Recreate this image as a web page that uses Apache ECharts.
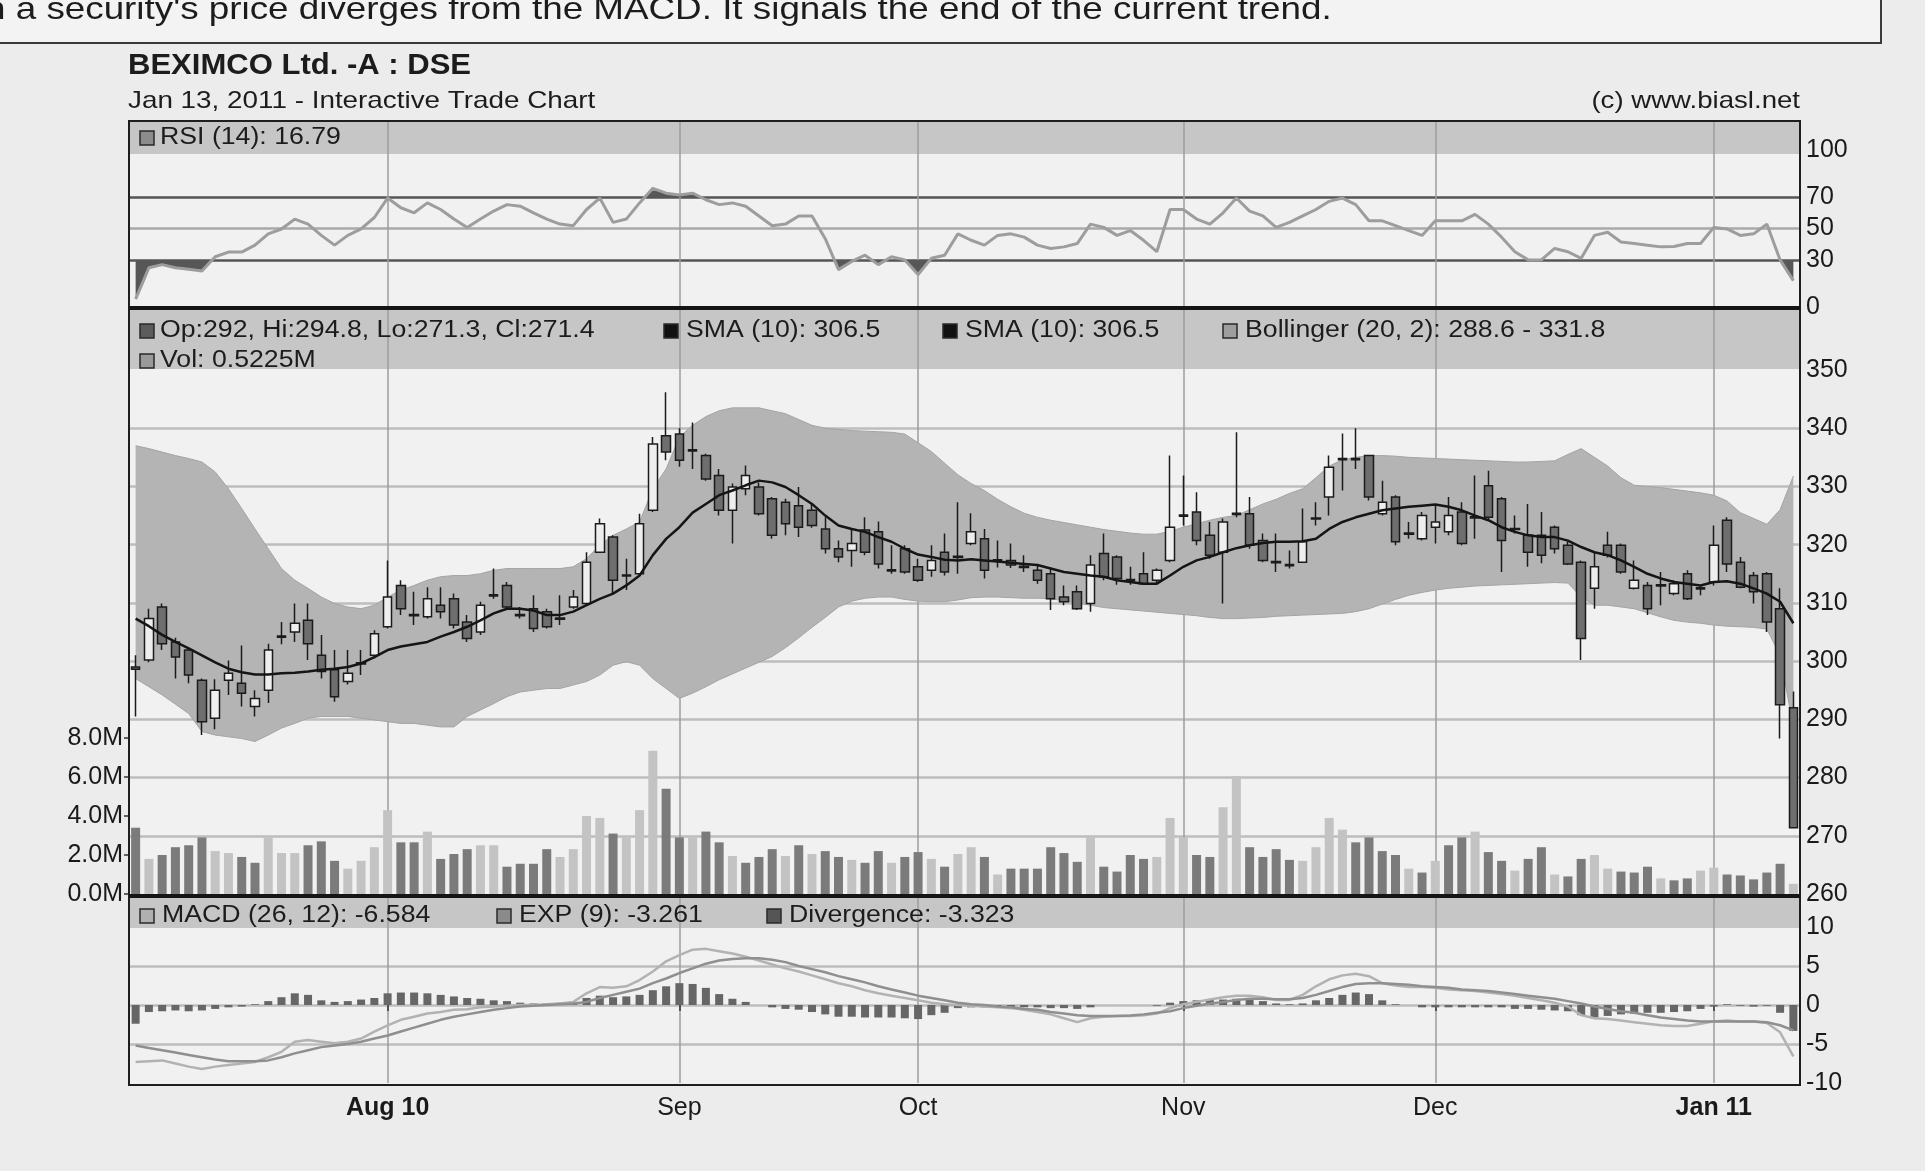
<!DOCTYPE html>
<html><head><meta charset="utf-8">
<script src="https://cdn.jsdelivr.net/npm/echarts@6/dist/echarts.min.js"></script>
<style>html,body{margin:0;padding:0;background:#ececec;}#c{width:1925px;height:1171px;}</style>
</head><body><div id="c"></div>
<script>
// ---- trading days (DSE, Sun-Thu) ----
const julDays = [5,6,7,8,11,12,13,14,15,18,19,20,21,22,25,26,27,28,29];
const augDays = [1,2,3,4,5,8,9,10,11,12,16,17,18,19,22,23,24,25,26,29,30,31];
const sepDays = [1,2,5,6,7,8,15,16,19,20,21,22,23,26,27,28,29,30];
const octDays = [3,4,5,6,7,10,11,12,13,14,18,19,20,21,24,25,26,27,28,31];
const novDays = [1,2,3,4,7,8,9,10,11,14,15,21,22,23,24,25,28,29,30];
const decDays = [1,2,5,6,7,8,9,12,13,14,15,19,20,21,22,23,26,27,28,29,30];
const janDays = [2,3,4,5,6,9,10];
const monthStarts = ['2010-08-01','2010-09-01','2010-10-03','2010-11-01','2010-12-01','2011-01-02'];
const monthLabels = ['Aug 10','Sep','Oct','Nov','Dec','Jan 11'];
const boldLabels = ['Aug 10','Jan 11'];

// ---- prices [open, high, low, close] ----
const candles = [
[299.0,301.0,290.5,298.6],[300.2,309.0,299.8,307.3],[309.3,309.9,301.9,303.0],[303.3,304.0,297.0,300.7],[301.9,302.2,296.2,297.6],
[296.7,297.0,287.3,289.6],[290.2,296.9,288.3,295.0],[296.7,300.1,294.2,297.9],[296.2,302.7,292.2,294.5],[292.2,295.0,290.5,293.6],
[295.0,303.0,292.8,301.9],[304.1,306.7,302.9,304.3],[305.0,309.9,303.3,306.5],[307.0,309.9,300.2,303.0],[301.0,304.5,297.0,298.2],
[298.5,301.9,293.0,293.9],[296.5,301.9,296.0,297.9],[299.5,301.9,297.6,299.7],[301.0,305.3,300.5,304.7],[305.9,317.3,305.6,311.0],
[313.0,313.9,307.9,309.0],[308.0,311.9,306.2,307.8],[307.6,312.7,307.3,310.7],[309.6,312.7,307.3,308.5],[310.7,311.6,305.6,306.2],
[306.7,307.9,303.3,303.9],[305.0,310.2,304.5,309.6],[311.2,315.9,310.7,311.4],[313.0,313.6,308.8,309.3],[308.0,309.3,307.3,307.8],
[309.0,311.3,305.0,305.6],[308.5,309.0,305.6,305.9],[307.2,311.3,306.2,307.4],[309.3,312.2,309.0,311.0],[309.9,318.7,309.6,317.0],
[318.7,324.5,318.7,323.6],[321.3,321.6,311.6,313.9],[314.6,317.6,312.2,314.8],[315.0,325.3,314.7,323.6],[325.9,338.5,325.6,337.3],
[338.7,346.2,334.5,335.9],[339.0,340.0,333.4,334.5],[336.1,341.0,333.0,336.3],[335.3,335.6,331.0,331.3],[331.9,333.0,325.0,325.9],
[325.9,330.5,320.2,329.9],[329.6,333.6,328.5,331.9],[329.9,330.7,325.0,325.3],[327.9,328.2,321.0,321.6],[327.3,327.9,321.6,323.6],
[326.7,329.9,321.3,323.0],[325.9,327.0,322.9,323.3],[322.7,324.7,318.5,319.3],[319.3,320.7,317.0,317.9],[319.0,322.7,316.2,320.2],
[322.5,324.7,318.2,318.7],[322.2,324.0,315.9,316.7],[315.5,319.9,315.0,315.7],[319.3,319.9,315.0,315.3],[316.2,317.6,313.6,313.9],
[315.6,319.9,314.5,317.3],[318.7,321.9,314.7,315.3],[317.8,327.3,315.0,318.0],[320.2,325.4,319.9,322.2],[321.0,322.7,314.2,315.6],
[317.2,320.7,316.1,317.4],[317.3,320.2,316.0,316.5],[316.3,318.2,315.3,316.1],[315.6,316.7,313.3,313.9],[315.0,315.9,308.8,310.7],
[311.0,313.0,309.6,310.2],[311.9,313.0,308.8,309.0],[309.9,318.2,308.5,316.5],[318.5,321.9,313.9,314.5],[317.9,318.2,313.1,314.2],
[314.0,316.2,313.1,313.8],[315.0,318.7,313.1,313.3],[313.9,315.9,313.1,315.6],[317.3,335.3,317.0,323.0],[324.9,331.9,323.3,325.1],
[325.6,329.0,319.9,320.7],[321.6,323.9,317.6,318.2],[318.7,324.5,309.9,323.9],[325.2,339.3,324.7,325.4],[325.3,328.2,319.3,319.9],
[320.7,321.9,317.0,317.3],[317.1,321.9,315.3,316.9],[316.6,319.0,315.9,316.4],[317.0,326.2,317.0,320.5],[324.4,327.3,323.3,324.6],
[328.2,335.3,325.0,333.3],[334.6,339.1,329.3,334.8],[334.8,340.0,333.0,334.6],[335.3,335.3,327.6,328.2],[325.3,331.0,325.0,327.3],
[328.2,328.5,319.9,320.5],[321.8,323.9,321.0,322.0],[321.0,325.6,320.7,325.0],[323.0,327.0,320.2,323.9],[322.2,328.2,321.6,325.0],
[325.6,327.3,319.9,320.2],[324.6,331.9,321.0,324.8],[330.1,332.7,324.2,324.7],[327.9,328.2,315.3,320.7],[322.6,325.0,321.9,322.8],
[321.6,327.0,316.2,318.7],[321.6,325.6,316.8,318.2],[323.0,323.3,318.5,319.3],[319.9,320.5,316.5,316.7],[317.0,317.3,300.2,303.9],
[312.5,318.7,309.0,316.2],[319.9,322.2,317.8,318.2],[319.9,320.2,315.0,315.3],[312.5,317.3,312.3,313.9],[313.0,313.6,307.9,309.0],
[312.9,315.3,309.6,313.1],[311.6,313.9,311.3,313.3],[315.0,315.6,310.5,310.7],[312.4,313.0,311.3,312.6],[313.6,323.3,313.0,319.9],
[324.2,324.7,315.3,316.7],[317.0,317.9,312.5,312.7],[314.7,315.3,309.9,311.9],[315.0,315.3,305.0,306.7],[309.0,312.5,286.7,292.5],
[292.0,294.8,271.3,271.4]
];
const sma10 = [307.3,306,304.5,303.3,302.2,301,299.8,298.7,298.1,297.7,297.7,297.9,298,298.2,298.5,298.7,299,299.6,300.7,301.9,
302.5,302.9,303.3,304.2,305,305.9,307,308.2,309,309,308.7,307.9,307.9,308.5,309.6,310.7,311.6,313,314.7,318.2,
321,323,325.5,327,328.5,329.3,330.2,331,330.7,329.9,328.5,327,325,323.3,322.7,322.2,321.3,320.5,319.3,318.3,
317.9,317.4,317.3,317.5,317.3,317.1,316.9,316.7,316.5,315.9,315.3,315,314.7,314.5,313.9,313.6,313.3,313.3,314.7,316.2,
317.3,317.9,318.7,319.4,319.9,320.3,320.5,320.5,320.6,321,322.7,323.9,324.7,325.3,325.9,326.2,326.5,326.7,326.9,326.5,
325.9,325,324.2,323,322.2,321.6,321.3,321.3,320.7,319.6,318.7,318.2,317.3,316.2,315,314.2,313.6,313.3,313,313.6,
313.7,313.3,312.5,311.6,310.2,306.5];
const bbUpper = [337,336.5,335.9,335.3,334.8,334.2,332.5,329.6,326.2,322.7,319.3,315.9,313.9,312.5,311,309.9,309.3,309,309.6,311,
312.2,313,313.9,314.5,314.7,314.7,315,315.6,315.9,315.9,315.9,315.9,315.9,316.2,317.6,319.9,321.6,322.7,323.9,329.6,333,338.5,
340.5,342,343,343.5,343.5,343.5,343,342.5,341.5,340.5,340,339.8,339.6,339.5,339.4,339.3,339,337.5,336,334,332,330.5,329.3,327.8,
326.5,325.4,324.7,324.2,323.8,323.4,323,322.6,322.3,322,321.8,321.8,322.3,323,323.6,324.2,324.7,325,
326,327,327.8,328.8,329.6,331.5,333.5,334.6,335,335.3,335.3,335.2,335,334.9,334.8,334.7,334.6,334.5,334.4,334.3,334.2,334.2,
334.3,334.4,335.5,336.5,335,333.5,331.5,330.2,330,329.8,329.5,329.2,328.9,328.5,327.5,325.5,324.5,323.5,326,331.8];
const bbLower = [297,295.6,294.2,292.6,291,287.9,287.3,287,286.7,286.2,287.3,288.5,289.3,290.2,290.5,290.5,290.5,290.2,289.9,289.6,
289.3,289.3,289,288.7,288.7,290.5,291.6,292.7,293.9,294.7,295,295.3,295.3,295.9,296.5,297.6,299.3,299.9,299.3,297,295.3,293.6,
294.5,295.6,296.8,297.8,298.8,299.8,300.8,302.3,304,305.8,307.5,309.3,310.3,310.8,311,311,310.6,310.3,310.2,310.2,310.5,310.9,
311,311,310.9,310.8,310.8,310.7,310.4,310,309.6,309.2,309,308.8,308.6,308.4,308.2,308,307.8,307.5,307.3,307.3,
307.4,307.5,307.7,307.8,307.9,308,308.1,308.2,308.5,309,309.8,310.6,311.3,311.8,312.2,312.5,312.7,312.9,313,313.1,313.2,313.3,
313.4,313.5,313.4,311,309.6,309.6,309.3,309,308.3,307.6,307,306.7,306.5,306.2,306,305.9,305.8,305.5,301,288.6];
// ---- volume (millions) and up/down flag ----
const volume = [3.4,1.8,2.0,2.4,2.5,2.9,2.2,2.1,1.9,1.6,2.9,2.1,2.1,2.5,2.7,1.7,1.3,1.7,2.4,4.3,
2.65,2.65,3.2,1.8,2.05,2.3,2.5,2.5,1.4,1.55,1.55,2.3,1.9,2.3,4.0,3.9,3.1,2.9,4.3,7.35,
5.4,2.9,2.9,3.2,2.65,1.95,1.6,1.9,2.3,1.95,2.5,2.05,2.2,1.9,1.75,1.6,2.2,1.6,1.9,2.15,
1.8,1.4,2.05,2.4,1.9,1.0,1.3,1.3,1.3,2.4,2.1,1.65,2.9,1.4,1.15,2.0,1.8,1.9,3.9,2.9,
2.0,1.9,4.45,6.05,2.4,1.9,2.3,1.75,1.7,2.4,3.9,3.3,2.65,2.9,2.2,2.0,1.3,1.1,1.7,2.5,
2.9,3.2,2.15,1.7,1.2,1.8,2.4,1.0,0.9,1.8,2.0,1.3,1.15,1.1,1.4,0.8,0.7,0.8,1.2,1.35,
1.0,0.95,0.75,1.1,1.55,0.5225];
const volUp = [0,1,0,0,0,0,1,1,0,0, 1,1,1,0,0,0,1,1,1,1, 0,0,1,0,0,0,1,1,0,0, 0,0,1,1,1,1,0,1,1,1,
0,0,1,0,0,1,0,0,0,1, 0,1,0,0,1,0,0,1,0,0, 1,0,1,1,0,1,0,0,0,0, 0,0,1,0,0,0,0,1,1,1,
0,0,1,1,0,0,0,0,1,1, 1,1,0,0,0,0,1,0,1,0, 0,1,0,0,1,0,0,1,0,0, 1,1,0,0,0,1,0,0,1,1, 0,0,0,0,0,1];
// ---- RSI(14) ----
const rsi = [5,25,27,25,24,23,32,35,35,39.4,46.6,49.7,56,52.8,45.6,39.4,45.6,49.7,57,69.4,
63.2,60,66.3,62.1,56,50.7,56,61.1,65.2,64.2,60,56,52.8,51.8,62.1,69.4,53.9,56,66.3,75.6,
72.5,71.4,72.5,68.3,65.2,66.3,64.2,58,51.8,52.8,58,58,43.5,23.8,29,33,27,32,30,20.7,
31,33,46.6,42.5,39.4,45.6,46.6,44.5,39.4,37.3,38.3,40.4,52.8,50.7,45.6,48.7,42.5,35.2,62.1,62.1,
56,52.8,60,69.4,61.1,58,50.7,53.9,58,62.1,67.3,69.4,65.2,54.9,54.9,51.8,48.7,45.6,54.9,54.9,
54.9,59,52.8,44.5,35.2,30,30,37.3,35.2,31,45.6,47.6,41.4,40.4,39.4,38.3,38.5,40.4,40.4,50.7,
49.7,45.6,46.6,52.8,30,16.79];
const rsiTicks = [0,30,50,70,100];
// ---- MACD(26,12), EXP(9), Divergence ----
const macd = [-7.3,-7.2,-7.1,-7.5,-7.9,-8.2,-7.9,-7.7,-7.5,-7.3,-6.7,-6.0,-4.7,-4.5,-4.7,-4.9,-4.7,-4.3,-3.4,-2.6,
-1.9,-1.5,-1.1,-0.9,-0.6,-0.55,-0.3,-0.2,-0.1,0,0,0.1,0.2,0.4,1.5,2.3,2.2,2.4,3.2,4.3,
5.6,6.4,7.1,7.2,6.9,6.6,6.2,5.7,5.2,4.7,4.3,3.8,3.3,2.8,2.4,1.9,1.5,1.2,0.9,0.6,
0.3,0.1,0,-0.1,-0.2,-0.3,-0.4,-0.6,-0.9,-1.2,-1.7,-2.2,-1.7,-1.5,-1.4,-1.4,-1.3,-1.1,-0.4,0.1,
0.4,0.7,1.0,1.2,1.2,1.0,0.65,0.65,1.3,2.4,3.3,3.8,4.0,3.7,2.8,2.5,2.3,2.3,2.2,2.0,
1.9,1.8,1.6,1.4,1.2,0.9,0.6,0.3,-0.2,-1.3,-1.7,-1.8,-2.0,-2.2,-2.4,-2.6,-2.7,-2.7,-2.4,-2.1,
-2.0,-2.1,-2.1,-2.3,-3.5,-6.584];
const signal = [-5.2,-5.5,-5.8,-6.1,-6.4,-6.7,-7.0,-7.2,-7.2,-7.2,-7.1,-6.7,-6.2,-5.8,-5.4,-5.2,-5.0,-4.7,-4.3,-3.9,
-3.4,-2.9,-2.4,-1.9,-1.5,-1.2,-0.9,-0.6,-0.4,-0.2,-0.1,0,0.1,0.2,0.4,0.9,1.3,1.7,2.1,2.8,
3.4,4.1,4.7,5.3,5.7,5.9,6.0,6.0,5.8,5.5,5.0,4.6,4.2,3.7,3.3,2.9,2.4,2.0,1.6,1.2,
0.9,0.6,0.3,0.1,0,-0.2,-0.3,-0.5,-0.6,-0.9,-1.1,-1.3,-1.4,-1.4,-1.4,-1.35,-1.2,-1.0,-0.8,-0.4,
-0.1,0.2,0.4,0.65,0.8,0.8,0.75,0.75,0.9,1.3,1.8,2.3,2.7,2.8,2.8,2.7,2.6,2.4,2.3,2.2,
2.0,1.9,1.8,1.6,1.4,1.2,1.0,0.8,0.5,0.2,-0.2,-0.5,-0.8,-1.0,-1.3,-1.6,-1.8,-2.0,-2.1,-2.1,
-2.1,-2.1,-2.1,-2.2,-2.6,-3.261];
const divergence = [-2.4,-0.9,-0.8,-0.7,-0.8,-0.7,-0.5,-0.3,-0.2,0.1,0.5,1.0,1.5,1.3,0.6,0.4,0.5,0.7,0.9,1.5,
1.6,1.6,1.5,1.3,1.1,0.9,0.8,0.6,0.5,0.3,0.2,0.2,0.3,0.4,0.9,1.2,1.0,1.1,1.3,1.9,
2.4,2.8,2.7,2.2,1.4,0.8,0.4,0,-0.3,-0.5,-0.6,-0.9,-1.2,-1.5,-1.5,-1.6,-1.6,-1.6,-1.7,-1.8,
-1.3,-1.0,-0.4,-0.3,-0.3,-0.3,-0.3,-0.3,-0.3,-0.4,-0.4,-0.5,-0.3,0,0,0,0,-0.1,0.3,0.5,
0.6,0.7,0.7,0.8,0.8,0.5,0.2,0.1,0.2,0.6,0.9,1.3,1.6,1.4,0.6,0.1,0,-0.3,-0.3,-0.3,
-0.3,-0.3,-0.3,-0.3,-0.5,-0.5,-0.6,-0.7,-0.8,-1.3,-1.6,-1.4,-1.2,-1.1,-1.0,-1.0,-0.9,-0.8,-0.5,-0.2,
0.1,-0.1,-0.2,-0.1,-1.0,-3.323];

// ---- build ----
const pad = n => String(n).padStart(2,'0');
const categories = [];
[[2010,7,julDays],[2010,8,augDays],[2010,9,sepDays],[2010,10,octDays],[2010,11,novDays],[2010,12,decDays],[2011,1,janDays]]
  .forEach(([y,m,ds]) => ds.forEach(d => categories.push(y+'-'+pad(m)+'-'+pad(d))));
const isMonth = (i, v) => monthStarts.indexOf(v === undefined ? categories[i] : v) >= 0;
const monthFmt = (v) => { const k = monthStarts.indexOf(v); if (k < 0) return ''; const t = monthLabels[k];
  return boldLabels.indexOf(t) >= 0 ? '{b|' + t + '}' : '{n|' + t + '}'; };

const FONT = '"Liberation Sans", Arial, sans-serif';
const GRID_LINE = '#bdbdbd', NONE = 'rgba(0,0,0,0)';
const L = 129, R = 1800;

function xAx(gi, labels, split) {
  return {
    type: 'category', gridIndex: gi, data: categories, boundaryGap: true,
    axisLine: {show: false},
    axisTick: {show: labels, alignWithLabel: true, interval: isMonth, length: 6, lineStyle: {color: '#333', width: 1.5}},
    axisLabel: {show: labels, interval: isMonth, formatter: monthFmt, margin: 13,
      rich: {b: {fontFamily: FONT, fontSize: 25, fontWeight: 'bold', color: '#1a1a1a'},
             n: {fontFamily: FONT, fontSize: 25, color: '#1a1a1a'}}},
    splitLine: {show: split, interval: isMonth, alignWithLabel: true, lineStyle: {color: '#9c9c9c', width: 1.5}}
  };
}
const yLab = (fmt) => ({fontFamily: FONT, fontSize: 25, color: '#1a1a1a', margin: 6, formatter: fmt});

const rsiLineColors = [NONE,NONE,NONE,'#555555',NONE,'#a9a9a9',NONE,'#555555',NONE,NONE,NONE,NONE,NONE];
const priceLineColors = [NONE,GRID_LINE,GRID_LINE,GRID_LINE,GRID_LINE,GRID_LINE,GRID_LINE,GRID_LINE,GRID_LINE,NONE,NONE,NONE];
const macdLineColors = [NONE,GRID_LINE,GRID_LINE,GRID_LINE,NONE,NONE];

const ohlcData = candles.map(c => [c[0], c[3], c[2], c[1]]);
const bandData = bbUpper.map((u, i) => +(u - bbLower[i]).toFixed(2));
const volData = volume.map((v, i) => ({value: v, itemStyle: {color: volUp[i] ? '#c3c3c3' : '#7b7b7b'}}));

// ---- header / chrome graphics ----
const g = [];
const txt = (x, y, text, size, opt) => g.push(Object.assign({type: 'text', x, y, z: 20, scaleX: (opt && opt.sx) || 1.16, silent: true,
  style: {text, font: ((opt && opt.bold) ? 'bold ' : '') + size + 'px ' + FONT, fill: '#1c1c1c',
    align: (opt && opt.align) || 'left', textAlign: (opt && opt.align) || 'left', verticalAlign: 'middle', textVerticalAlign: 'middle'}}));
const sq = (x, y, fill) => g.push({type: 'rect', z: 20, silent: true, shape: {x, y: y - 7, width: 14, height: 14},
  style: {fill, stroke: '#2a2a2a', lineWidth: 1.5}});
const rect = (x, y, w, h, style, z) => g.push({type: 'rect', z, silent: true, shape: {x, y, width: w, height: h}, style});
const line = (x1, y1, x2, y2, w, c) => g.push({type: 'line', z: 20, silent: true, shape: {x1, y1, x2, y2}, style: {stroke: c, lineWidth: w}});

// quote box at the top
rect(-6, -30, 1887, 73, {fill: '#f3f3f3', stroke: '#3a3a3a', lineWidth: 2}, -3);
txt(-15, 10, "n a security's price diverges from the MACD. It signals the end of the current trend.", 32, {sx: 1.15});
// titles
txt(128, 66, 'BEXIMCO Ltd. -A : DSE', 29, {bold: true, sx: 1.07});
txt(128, 101, 'Jan 13, 2011 - Interactive Trade Chart', 24, {sx: 1.16});
txt(1800, 101, '(c) www.biasl.net', 24, {sx: 1.15, align: 'right'});
// panel backgrounds and header bands
rect(L, 121, R - L, 964, {fill: '#f1f1f1'}, -2);
rect(L, 121, R - L, 33, {fill: '#c6c6c6'}, -1);
rect(L, 309, R - L, 60, {fill: '#c6c6c6'}, -1);
rect(L, 897, R - L, 31, {fill: '#c6c6c6'}, -1);
// frames
rect(L, 121, R - L, 964, {fill: NONE, stroke: '#1e1e1e', lineWidth: 2}, 20);
line(L, 308, R, 308, 4, '#151515');
line(L, 896, R, 896, 4, '#151515');
// legends
sq(140, 138, '#8c8c8c'); txt(160, 138, 'RSI (14): 16.79', 23);
sq(140, 331, '#5c5c5c'); txt(160, 331, 'Op:292, Hi:294.8, Lo:271.3, Cl:271.4', 23);
sq(664, 331, '#111111'); txt(686, 331, 'SMA (10): 306.5', 23);
sq(943, 331, '#111111'); txt(965, 331, 'SMA (10): 306.5', 23);
sq(1223, 331, '#9e9e9e'); txt(1245, 331, 'Bollinger (20, 2): 288.6 - 331.8', 23);
sq(140, 361, '#9a9a9a'); txt(160, 361, 'Vol: 0.5225M', 23);
sq(140, 916, '#b0b0b0'); txt(162, 916, 'MACD (26, 12): -6.584', 23);
sq(497, 916, '#8a8a8a'); txt(519, 916, 'EXP (9): -3.261', 23);
sq(767, 916, '#555555'); txt(789, 916, 'Divergence: -3.323', 23);

const option = {
  backgroundColor: '#ececec',
  animation: false,
  graphic: {elements: g},
  grid: [
    {left: L, right: 1925 - R, top: 121, height: 186},
    {left: L, right: 1925 - R, top: 309, height: 585},
    {left: L, right: 1925 - R, top: 738, height: 156},
    {left: L, right: 1925 - R, top: 897, height: 186}
  ],
  xAxis: [xAx(0, false, true), xAx(1, false, true), Object.assign(xAx(2, false, false), {show: false}), xAx(3, true, true)],
  yAxis: [
    {type: 'value', gridIndex: 0, position: 'right', min: 0, max: 118.47, interval: 10,
      axisLine: {show: false}, axisTick: {show: false},
      axisLabel: yLab(v => rsiTicks.indexOf(v) >= 0 ? String(v) : ''),
      splitLine: {show: true, lineStyle: {color: rsiLineColors, width: 2.5}}},
    {type: 'value', gridIndex: 1, position: 'right', min: 260, max: 360.48, interval: 10,
      axisLine: {show: false}, axisTick: {show: false},
      axisLabel: yLab(v => (v <= 350 && v % 10 === 0) ? String(v) : ''),
      splitLine: {show: true, lineStyle: {color: priceLineColors, width: 2.5}}},
    {type: 'value', gridIndex: 2, position: 'left', min: 0, max: 8, interval: 2,
      axisLine: {show: false}, axisTick: {show: true, length: 5, lineStyle: {color: '#333', width: 1.5}},
      axisLabel: yLab(v => v.toFixed(1) + 'M'),
      splitLine: {show: false}},
    {type: 'value', gridIndex: 3, position: 'right', min: -10, max: 13.85, interval: 5,
      axisLine: {show: false}, axisTick: {show: false},
      axisLabel: yLab(v => (v % 5 === 0 && v <= 10) ? String(v) : ''),
      splitLine: {show: true, lineStyle: {color: macdLineColors, width: 2.5}}}
  ],
  visualMap: [{type: 'piecewise', show: false, seriesIndex: 0, dimension: 1,
    pieces: [{lt: 30, color: '#575757'}, {gte: 30, lte: 70, color: NONE}, {gt: 70, color: '#575757'}]}],
  series: [
    {name: 'rsiFill', type: 'line', xAxisIndex: 0, yAxisIndex: 0, data: rsi, showSymbol: false, silent: true, z: 2,
      lineStyle: {width: 0}, areaStyle: {origin: 30, opacity: 1}},
    {name: 'RSI', type: 'line', xAxisIndex: 0, yAxisIndex: 0, data: rsi, showSymbol: false, silent: true, z: 3,
      lineStyle: {color: '#9d9d9d', width: 3}, itemStyle: {color: '#9d9d9d'}},
    {name: 'bbLow', type: 'line', xAxisIndex: 1, yAxisIndex: 1, data: bbLower, stack: 'bb', showSymbol: false, silent: true, z: 2,
      lineStyle: {width: 1, color: '#a4a4a4'}},
    {name: 'Bollinger', type: 'line', xAxisIndex: 1, yAxisIndex: 1, data: bandData, stack: 'bb', showSymbol: false, silent: true, z: 2,
      lineStyle: {width: 1, color: '#a4a4a4'}, areaStyle: {color: '#b4b4b4', opacity: 1}},
    {name: 'Price', type: 'candlestick', xAxisIndex: 1, yAxisIndex: 1, data: ohlcData, barWidth: 9, silent: true, z: 4,
      itemStyle: {color: '#eeeeee', color0: '#6e6e6e', borderColor: '#1b1b1b', borderColor0: '#1b1b1b', borderWidth: 1.5}},
    {name: 'SMA', type: 'line', xAxisIndex: 1, yAxisIndex: 1, data: sma10, showSymbol: false, silent: true, z: 5,
      lineStyle: {color: '#151515', width: 2.5}},
    {name: 'Vol', type: 'bar', xAxisIndex: 2, yAxisIndex: 2, data: volData, barWidth: 9, silent: true, z: 3},
    {name: 'Divergence', type: 'bar', xAxisIndex: 3, yAxisIndex: 3, data: divergence, barWidth: 8, silent: true, z: 2,
      itemStyle: {color: '#666666'}},
    {name: 'MACD', type: 'line', xAxisIndex: 3, yAxisIndex: 3, data: macd, showSymbol: false, silent: true, z: 3,
      lineStyle: {color: '#b2b2b2', width: 2.5}},
    {name: 'EXP', type: 'line', xAxisIndex: 3, yAxisIndex: 3, data: signal, showSymbol: false, silent: true, z: 3,
      lineStyle: {color: '#8f8f8f', width: 2.5}}
  ]
};
const chart = echarts.init(document.getElementById('c'), null, {renderer: 'canvas'});
chart.setOption(option);
</script></body></html>
